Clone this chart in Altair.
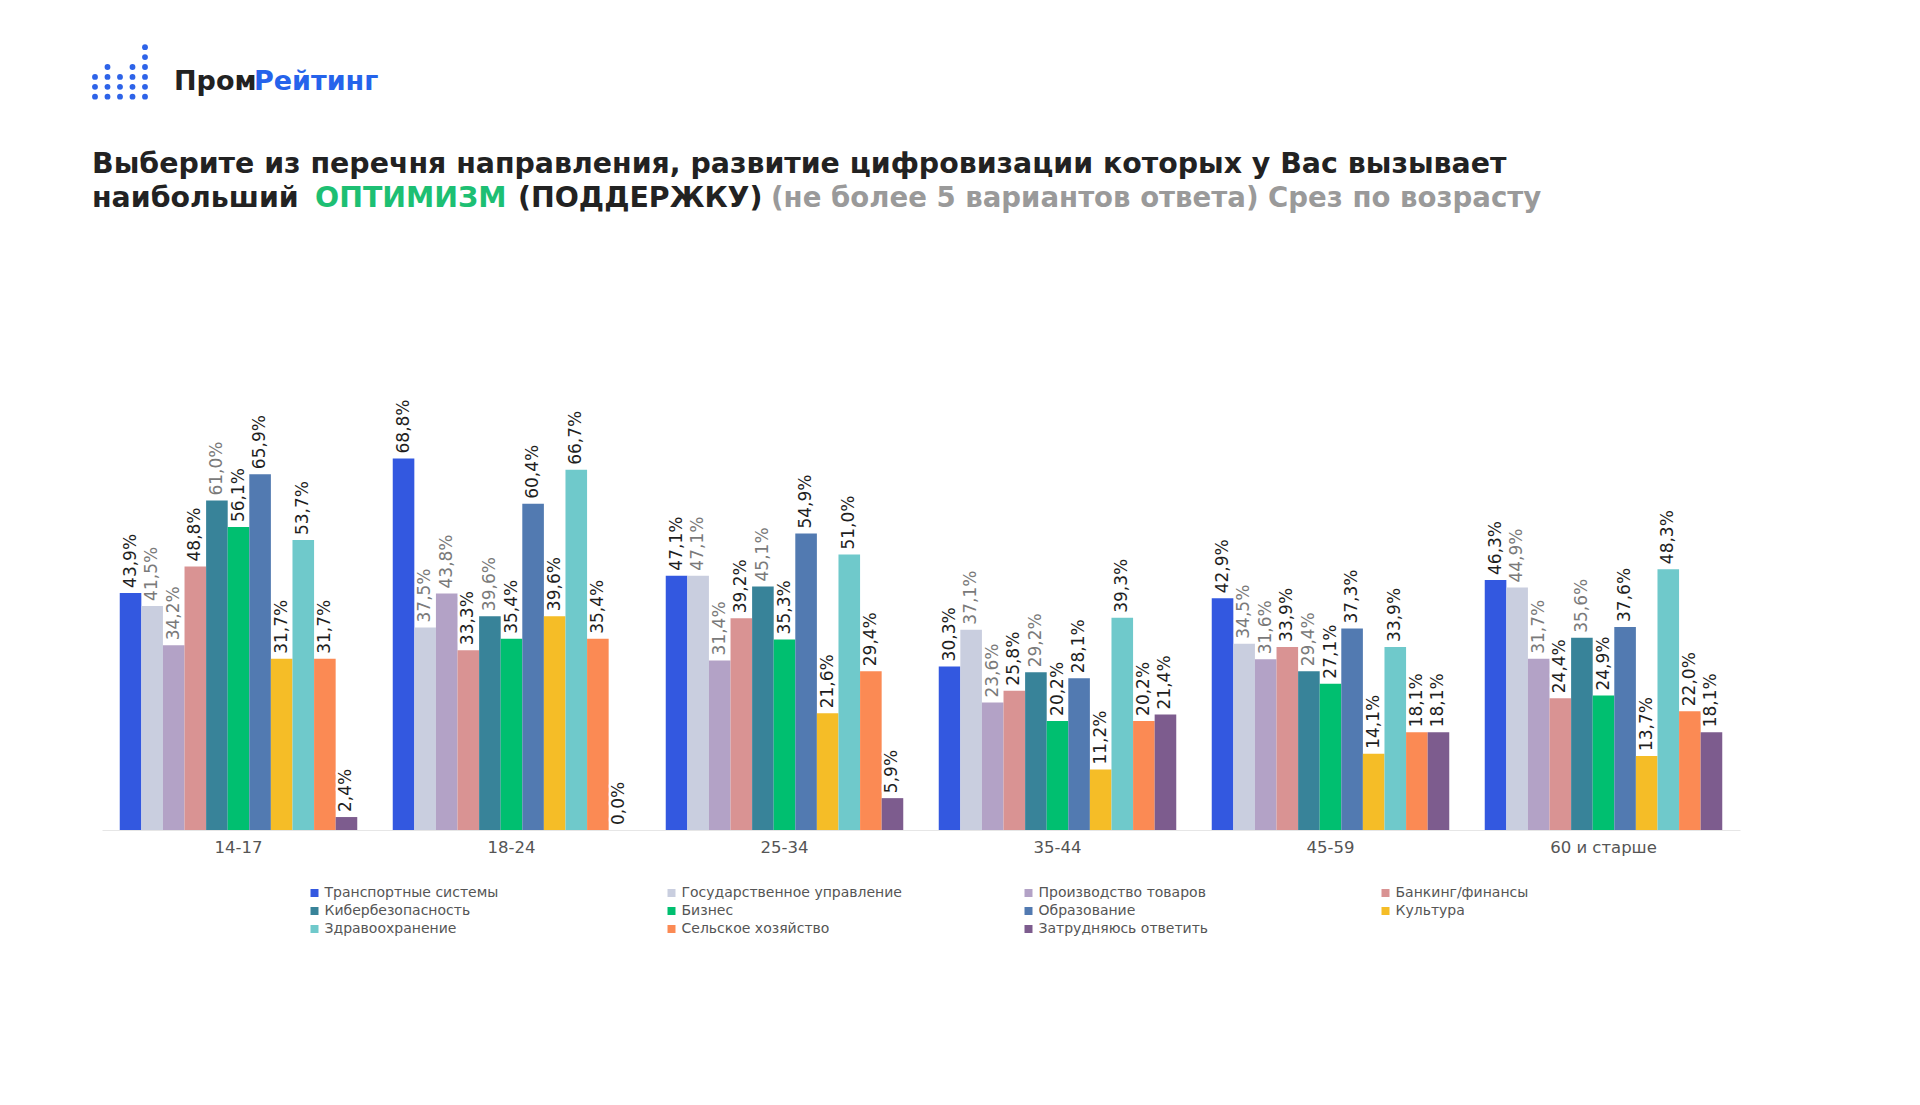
import altair as alt
import pandas as pd

groups = ["14-17", "18-24", "25-34", "35-44", "45-59", "60 и старше"]
series = [
    "Транспортные системы", "Государственное управление", "Производство товаров",
    "Банкинг/финансы", "Кибербезопасность", "Бизнес", "Образование", "Культура",
    "Здравоохранение", "Сельское хозяйство", "Затрудняюсь ответить",
]
colors = ["#3358E0", "#C9CEDF", "#B3A2C6", "#D99393", "#388399", "#00BF70",
          "#527AB1", "#F5BD27", "#6FC9CB", "#FB8A54", "#7D5C8E"]

v_14_17 = [43.9, 41.5, 34.2, 48.8, 61.0, 56.1, 65.9, 31.7, 53.7, 31.7, 2.4]
v_18_24 = [68.8, 37.5, 43.8, 33.3, 39.6, 35.4, 60.4, 39.6, 66.7, 35.4, 0.0]
v_25_34 = [47.1, 47.1, 31.4, 39.2, 45.1, 35.3, 54.9, 21.6, 51.0, 29.4, 5.9]
v_35_44 = [30.3, 37.1, 23.6, 25.8, 29.2, 20.2, 28.1, 11.2, 39.3, 20.2, 21.4]
v_45_59 = [42.9, 34.5, 31.6, 33.9, 29.4, 27.1, 37.3, 14.1, 33.9, 18.1, 18.1]
v_60 = [46.3, 44.9, 31.7, 24.4, 35.6, 24.9, 37.6, 13.7, 48.3, 22.0, 18.1]
values = [v_14_17, v_18_24, v_25_34, v_35_44, v_45_59, v_60]

gray_label_series = ["Государственное управление", "Производство товаров", "Кибербезопасность"]

title_line1 = "Выберите из перечня направления, развитие цифровизации которых у Вас вызывает"
title_a = "наибольший"
title_b = "ОПТИМИЗМ"
title_c = "(ПОДДЕРЖКУ)"
title_d = "(не более 5 вариантов ответа) Срез по возрасту"
logo_a = "Пром"
logo_b = "Рейтинг"
logo_dots_per_column = [3, 4, 3, 4, 6]

FONT = "DejaVu Sans"

rows = []
for g, vals in zip(groups, values):
    for s, v in zip(series, vals):
        rows.append({
            "group": g, "series": s, "value": v,
            "label": f"{v:.1f}".replace(".", ",") + "%",
            "lc": "#7a7a7a" if s in gray_label_series else "#1e1e1e",
        })
df = pd.DataFrame(rows)

dots = pd.DataFrame([{"col": c, "row": r}
                     for c, n in enumerate(logo_dots_per_column) for r in range(n)])

x_enc = dict(shorthand="group:N", sort=groups,
             scale=alt.Scale(paddingInner=0.13, paddingOuter=0.065))

bars = alt.Chart(df).mark_bar().encode(
    x=alt.X(**x_enc, axis=alt.Axis(title=None, labelAngle=0, ticks=False,
                                   domainColor="#e6e6e6", domainWidth=1,
                                   labelColor="#555555", labelFont=FONT,
                                   labelFontSize=16.5, labelPadding=9)),
    xOffset=alt.XOffset("series:N", sort=series),
    y=alt.Y("value:Q", scale=alt.Scale(domain=[0, 100]), axis=None),
    color=alt.Color("series:N", sort=series,
                    scale=alt.Scale(domain=series, range=colors),
                    legend=alt.Legend(title=None, orient="none", legendX=205.5, legendY=596,
                                      columns=4, direction="horizontal", gridAlign="all",
                                      columnPadding=119, rowPadding=4,
                                      symbolType="square", symbolSize=64,
                                      symbolStrokeWidth=0, labelFont=FONT,
                                      labelFontSize=14, labelColor="#555555",
                                      labelOffset=3, labelLimit=400, padding=0)),
)

halo = alt.Chart(df).mark_text(angle=270, align="left", baseline="middle", dx=5,
                               font=FONT, fontSize=17, fill="white", stroke="white",
                               strokeWidth=4, strokeJoin="round").encode(
    x=alt.X(**x_enc, axis=None),
    xOffset=alt.XOffset("series:N", sort=series),
    y=alt.Y("value:Q", scale=alt.Scale(domain=[0, 100]), axis=None),
    text="label:N",
)

labels = alt.Chart(df).mark_text(angle=270, align="left", baseline="middle", dx=5,
                                 font=FONT, fontSize=17).encode(
    x=alt.X(**x_enc, axis=None),
    xOffset=alt.XOffset("series:N", sort=series),
    y=alt.Y("value:Q", scale=alt.Scale(domain=[0, 100]), axis=None),
    text="label:N",
    color=alt.Color("lc:N", scale=None),
)

logo_dots = alt.Chart(dots).mark_circle(size=34, opacity=1, color="#2D63E8").encode(
    x=alt.X("col:Q", scale=alt.Scale(domain=[0, 4], range=[-7, 43]), axis=None),
    y=alt.Y("row:Q", scale=alt.Scale(domain=[0, 5], range=[-193.3, -242.8]), axis=None),
)


def text_layer(t, x, y, size, color, weight="bold"):
    return alt.Chart(pd.DataFrame({"t": [t]})).mark_text(
        align="left", baseline="alphabetic", font=FONT, fontSize=size,
        fontWeight=weight, color=color,
    ).encode(x=alt.value(x), y=alt.value(y), text="t:N")


layers = [
    bars, halo, labels, logo_dots,
    text_layer(logo_a, 72, -200, 27, "#222222"),
    text_layer(logo_b, 152, -200, 27, "#2563EB"),
    text_layer(title_line1, -10, -117, 28.4, "#222222"),
    text_layer(title_a, -10, -83.5, 28.4, "#222222"),
    text_layer(title_b, 213, -83.5, 28.4, "#1DBF73"),
    text_layer(title_c, 416, -83.5, 28.4, "#222222"),
    text_layer(title_d, 669, -83.5, 27.6, "#9a9a9a"),
]

chart = alt.layer(*layers).resolve_scale(x="independent", y="independent").properties(
    width=1638, height=540,
    autosize=alt.AutoSizeParams(type="none"),
    padding={"left": 94, "top": 282, "right": 172, "bottom": 200},
    background="white",
).configure_view(stroke=None)

chart.save("out.html", embed_options={"renderer": "svg", "actions": False})
